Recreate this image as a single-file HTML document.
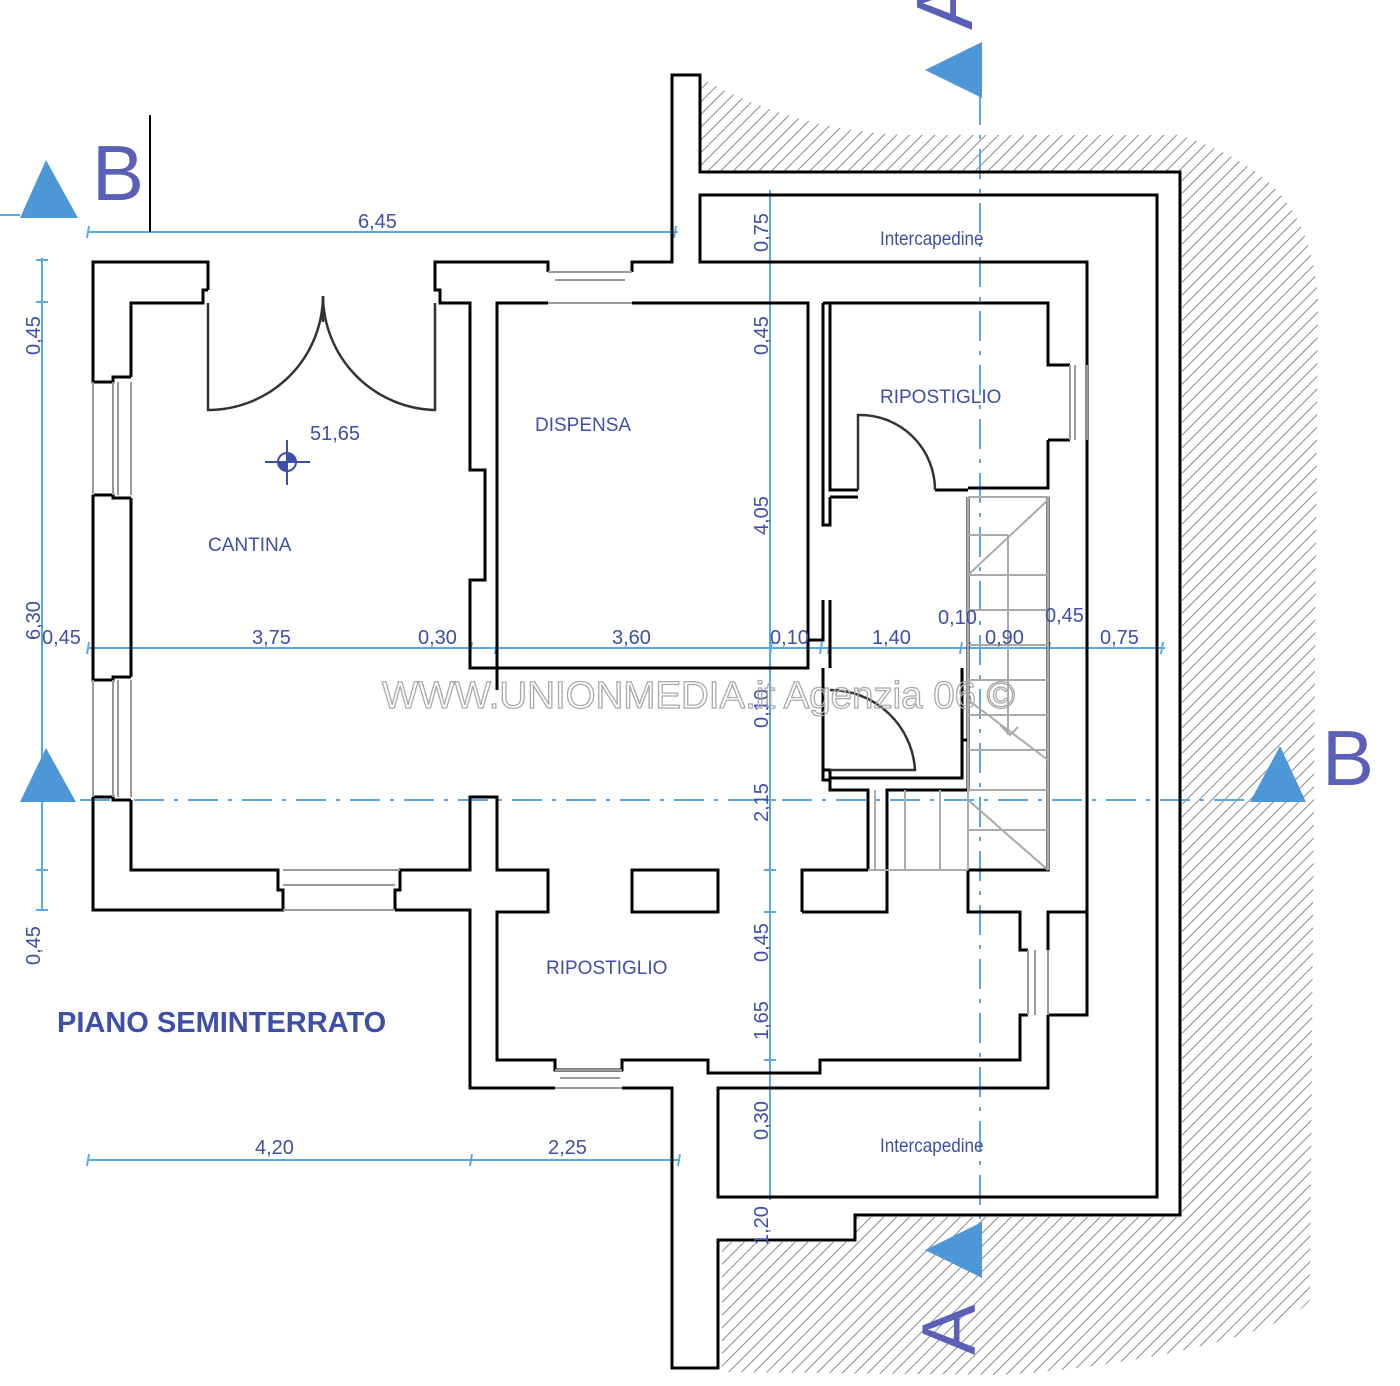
<!DOCTYPE html>
<html><head><meta charset="utf-8"><style>
html,body{margin:0;padding:0;background:#fff;}
svg{display:block;}
text{font-family:"Liberation Sans",sans-serif;fill:#3d4fa8;}
</style></head><body>
<svg width="1400" height="1386" viewBox="0 0 1400 1386" xmlns="http://www.w3.org/2000/svg">
<defs>
<pattern id="h" width="9" height="9" patternUnits="userSpaceOnUse" patternTransform="rotate(45)">
<line x1="0" y1="0" x2="0" y2="9" stroke="#8a8a8a" stroke-width="2"/>
</pattern>
</defs>
<path d="M700,78 C760,110 820,130 900,135 L1180,135 C1250,160 1310,190 1318,300 L1310,1300 C1280,1340 1100,1370 1000,1375 L722,1372 L722,1242 L855,1242 L855,1217 L1182,1217 L1182,172 L700,172 Z" fill="url(#h)"/>

<g stroke="#5aa9e6" stroke-width="2" fill="none">
<line x1="88" y1="232" x2="678" y2="232"/>
<line x1="42" y1="258" x2="42" y2="910"/>
<line x1="88" y1="648" x2="1165" y2="648"/>
<line x1="770" y1="190" x2="770" y2="1200"/>
<line x1="88" y1="1160" x2="680" y2="1160"/>
<line x1="0" y1="215" x2="20" y2="215"/>
</g>
<g stroke="#5aa9e6" stroke-width="2">
<path d="M89,226 l-2,12 M676,226 l-2,12 M36,260 l12,0 M36,302 l12,0 M36,800 l12,0 M36,870 l12,0 M36,910 l12,0 M89,642 l-2,12 M132,642 l-2,12 M472,642 l-2,12 M497,642 l-2,12 M772,642 l-2,12 M822,642 l-2,12 M830,642 l-2,12 M962,642 l-2,12 M970,642 l-2,12 M1050,642 l-2,12 M1088,642 l-2,12 M1163,642 l-2,12 M764,195 l12,0 M764,262 l12,0 M764,303 l12,0 M764,668 l12,0 M764,800 l12,0 M764,870 l12,0 M764,912 l12,0 M764,1060 l12,0 M764,1088 l12,0 M764,1197 l12,0 M89,1154 l-2,12 M472,1154 l-2,12 M680,1154 l-2,12"/>
</g>
<g stroke="#5aa9e6" stroke-width="2" stroke-dasharray="30,10,4,10" fill="none">
<line x1="80" y1="800" x2="1250" y2="800"/>
<line x1="980" y1="95" x2="980" y2="1225"/>
</g>
<g fill="#4e97d6">
<path d="M20,218 L46,160 L78,218 Z"/>
<path d="M20,802 L46,748 L76,802 Z"/>
<path d="M1250,802 L1280,746 L1306,802 Z"/>
<path d="M925,70 L982,42 L982,98 Z"/>
<path d="M925,1250 L982,1222 L982,1278 Z"/>
</g>
<line x1="150" y1="115" x2="150" y2="232" stroke="#000" stroke-width="2"/>
<text x="92" y="200" font-size="78" style="fill:#5a5fb8">B</text>
<text x="1322" y="785" font-size="78" style="fill:#5a5fb8">B</text>
<text font-size="80" style="fill:#5a5fb8" transform="translate(972,30) rotate(-90)">A</text>
<text font-size="76" style="fill:#5a5fb8" transform="translate(975,1355) rotate(-90)">A</text>

<g stroke="#000" stroke-width="3" fill="none" stroke-linejoin="miter">
<path d="M208,290 V262 H93 V382 H113 V377 H131"/>
<path d="M93,495 H113 V498 H131"/>
<path d="M93,495 V680 H113 V677 H131"/>
<path d="M93,797 H113 V800 H131"/>
<path d="M93,797 V910 H283 V890 H278 V870 H131 V800"/>
<path d="M131,377 V303 H203 V290 H208"/>
<path d="M131,498 V677"/>
<path d="M395,910 V890 H400 V870 H470 V797 H497 V870 H548 V912 H497 V1060 H555 V1070 H622 V1060 H708 V1073 H820 V1060 H1020 V1015 H1028"/>
<path d="M395,910 H470 V1088 H555 M622,1088 H672 V1368 H718 V1240 H855 V1215 H1180 V172 H700 V75 H672 V262 H632 V272 M548,272 V262 H435 V290 H440 V303 H470 V470 H485 V580 H470 V668 H497 V690"/>
<path d="M497,668 V303 H548 M632,303 H808 V650"/>
<path d="M497,668 H808 V640 H823 V600"/>
<path d="M823,303 V460 M823,303 H830 V490 H858"/>
<path d="M830,303 H1048 V365 H1070 M1048,440 H1070"/>
<path d="M935,490 H968 M1048,440 V488 H968"/>
<path d="M830,497 H858 M830,497 V525 H823 V460"/>
<path d="M823,668 V780 H830 V790 H868 V870 M887,870 V790 H968 V497"/>
<path d="M830,668 V600 M962,668 V740 H968"/>
<path d="M822,770 H830 V778 H962 V740"/>
<rect x="632" y="870" width="86" height="42"/>
<path d="M802,912 V870 H868 M887,870 V912 H802"/>
<path d="M968,870 V912 H1020 V950 H1028 M1020,1015 V1060"/>
<path d="M968,870 H1048 V497 M1048,1015 V1088 H718 V1197 H1157 V195 H700 V262 H1087 V912 H1048 V950"/>
<path d="M1048,912 V950 M1087,912 V1015 H1048"/>
<path d="M700,262 H1087"/>
</g>
<g stroke="#999" stroke-width="2" fill="none">
<path d="M113,382 V495 M118,382 V495 M131,382 V495 M93,382 V495"/>
<path d="M113,680 V797 M118,680 V797 M131,680 V797 M93,680 V797"/>
<path d="M283,870 H400 M283,885 H395 M283,910 H395"/>
<path d="M548,272 H632 M555,280 H625 M548,303 H632"/>
<path d="M1070,365 V440 M1075,365 V440 M1087,365 V440"/>
<path d="M1028,950 V1015 M1035,950 V1015 M1048,950 V1015"/>
<path d="M555,1070 H622 M560,1078 H620 M555,1088 H622"/>
</g>
<g stroke="#333" stroke-width="2.5" fill="none">
<path d="M208,303 V410 A115,115 0 0 0 323,296 V322"/>
<path d="M435,303 V410 A115,115 0 0 1 323,296"/>
<path d="M858,490 V415 A75,75 0 0 1 935,490"/>
<path d="M830,690 A85,85 0 0 1 915,770 H830"/>
</g>
<g stroke="#aaa" stroke-width="2" fill="none">
<path d="M968,497 H1048 V870 M968,497 V870"/>
<path d="M968,535 H1008 M968,575 H1048 M968,610 H1048 M968,645 H1048 M968,680 H1048 M968,715 H1048 M968,750 H1048 M968,790 H1048 M968,830 H1048"/>
<path d="M1008,535 V735 M1048,500 L968,575 M968,700 L1048,760 M968,800 L1048,870"/>
<path d="M875,790 V870 M905,790 V870 M940,790 V870 M968,790 V870 M868,870 H968"/>
<path d="M1000,725 l10,10 l8,-8"/>
</g>
<g stroke="#3d4fa8" stroke-width="2" fill="none">
<circle cx="287" cy="462" r="9"/><line x1="265" y1="462" x2="310" y2="462"/><line x1="287" y1="440" x2="287" y2="485"/>
</g>
<path d="M287,453 A9,9 0 0 1 296,462 L287,462 Z M287,471 A9,9 0 0 1 278,462 L287,462Z" fill="#3d4fa8"/>
<g font-size="20">
<text x="358" y="228">6,45</text>
<text x="310" y="440">51,65</text>
<text x="42" y="644">0,45</text>
<text x="252" y="644">3,75</text>
<text x="418" y="644">0,30</text>
<text x="612" y="644">3,60</text>
<text x="770" y="644">0,10</text>
<text x="872" y="644">1,40</text>
<text x="938" y="624">0,10</text>
<text x="985" y="644">0,90</text>
<text x="1045" y="622">0,45</text>
<text x="1100" y="644">0,75</text>
<text x="255" y="1154">4,20</text>
<text x="548" y="1154">2,25</text>
</g>
<g font-size="20">
<text transform="translate(40,355) rotate(-90)">0,45</text>
<text transform="translate(40,640) rotate(-90)">6,30</text>
<text transform="translate(40,965) rotate(-90)">0,45</text>
<text transform="translate(768,252) rotate(-90)">0,75</text>
<text transform="translate(768,355) rotate(-90)">0,45</text>
<text transform="translate(768,535) rotate(-90)">4,05</text>
<text transform="translate(768,728) rotate(-90)">0,10</text>
<text transform="translate(768,822) rotate(-90)">2,15</text>
<text transform="translate(768,962) rotate(-90)">0,45</text>
<text transform="translate(768,1040) rotate(-90)">1,65</text>
<text transform="translate(768,1140) rotate(-90)">0,30</text>
<text transform="translate(768,1245) rotate(-90)">1,20</text>
</g>
<g font-size="19">
<text x="208" y="551">CANTINA</text>
<text x="535" y="431">DISPENSA</text>
<text x="880" y="403">RIPOSTIGLIO</text>
<text x="546" y="974">RIPOSTIGLIO</text>
<text x="880" y="245" transform="translate(880,245) scale(0.9,1) translate(-880,-245)">Intercapedine</text>
<text x="880" y="1152" transform="translate(880,1152) scale(0.9,1) translate(-880,-1152)">Intercapedine</text>
</g>
<text x="57" y="1032" font-size="29" font-weight="bold">PIANO SEMINTERRATO</text>
<text x="382" y="708" font-size="38" textLength="633" lengthAdjust="spacingAndGlyphs" style="fill:none;stroke:#aaa;stroke-width:1.3">WWW.UNIONMEDIA.it  Agenzia 06 ©</text>
</svg>
</body></html>
